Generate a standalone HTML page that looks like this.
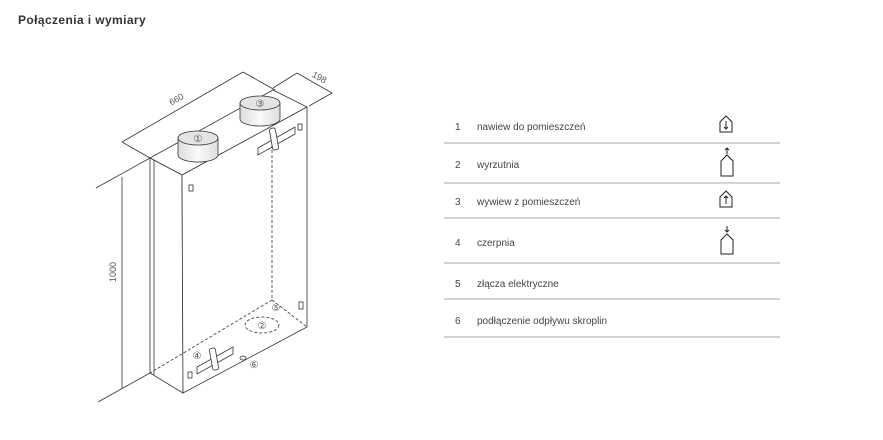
<!DOCTYPE html>
<html><head><meta charset="utf-8"><style>
body{margin:0;width:883px;height:440px;background:#fff;position:relative;overflow:hidden;font-family:"Liberation Sans",sans-serif;}
.t{position:absolute;left:18px;top:13px;font-size:12px;font-weight:bold;color:#333;letter-spacing:0.4px;}
svg{position:absolute;left:0;top:0}
</style></head><body>
<div class="t">Połączenia i wymiary</div>
<svg width="883" height="440" viewBox="0 0 883 440" font-family="Liberation Sans, sans-serif">
<defs><linearGradient id="g" x1="0" x2="1"><stop offset="0" stop-color="#ddd"/><stop offset="0.5" stop-color="#fafafa"/><stop offset="1" stop-color="#ddd"/></linearGradient></defs>
<g stroke="#333" stroke-width="0.8" fill="none">
<line x1="96" y1="188" x2="150" y2="158"/>
<line x1="98" y1="402" x2="150" y2="373"/>
<line x1="122" y1="177" x2="122" y2="388"/>
<line x1="122" y1="142" x2="243" y2="72"/>
<line x1="122" y1="142" x2="150" y2="158"/>
<line x1="243" y1="72" x2="275" y2="90"/>
<line x1="297" y1="73" x2="332" y2="93"/>
<line x1="273" y1="88" x2="297" y2="73"/>
<line x1="309" y1="106" x2="332" y2="93"/>
<polygon points="150,158 273,90 307,107 182,175" fill="#fff"/>
<polygon points="150,158 182,175 183,393 150,373" fill="#fff"/>
<polygon points="182,175 307,107 307,327 183,393" fill="#fff"/>
<line x1="154" y1="160" x2="154" y2="375"/>
<g stroke-dasharray="3,2">
<line x1="272" y1="130" x2="272" y2="300"/>
<line x1="272" y1="300" x2="150" y2="373"/>
<line x1="272" y1="300" x2="307" y2="327"/>
<ellipse cx="262" cy="325" rx="17" ry="8"/>
</g>
<path d="M178,138 L178,155 A20,7 0 0 0 218,155 L218,138" fill="url(#g)"/>
<ellipse cx="198" cy="138" rx="20" ry="7" fill="#e4e4e4"/>
<path d="M240,103 L240,119 A20,7 0 0 0 280,119 L280,103" fill="url(#g)"/>
<ellipse cx="260" cy="103" rx="20" ry="7" fill="#e4e4e4"/>
<polygon points="258,148 295,127 295,134 258,155"/>
<rect x="271" y="128" width="6" height="22" rx="2" transform="rotate(-10 274 139)" fill="#fff"/>
<polygon points="197,367 233,347 233,354 197,374"/>
<rect x="211" y="348" width="6" height="22" rx="2" transform="rotate(-10 214 359)" fill="#fff"/>
<rect x="189" y="185" width="4" height="6"/>
<rect x="298" y="124" width="4" height="6"/>
<rect x="188" y="372" width="4" height="6"/>
<rect x="299" y="302" width="4" height="7"/>
<ellipse cx="243" cy="358" rx="3" ry="2"/>
</g>
<g font-size="10" fill="#555" text-anchor="middle">
<text x="198" y="142">①</text><text x="260" y="107">③</text>
<text x="262" y="329">②</text><text x="276" y="311">⑤</text>
<text x="197" y="359">④</text><text x="254" y="368">⑥</text>
<text x="178" y="102" font-size="9" transform="rotate(-29 178 102)">660</text>
<text x="318" y="80" font-size="9" transform="rotate(29 318 80)">198</text>
<text x="116" y="272" font-size="9" transform="rotate(-90 116 272)">1000</text>
</g>
<g stroke="#aaa" stroke-width="1">
<line x1="444" y1="143" x2="780" y2="143"/><line x1="444" y1="183" x2="780" y2="183"/>
<line x1="444" y1="218" x2="780" y2="218"/><line x1="444" y1="263" x2="780" y2="263"/>
<line x1="444" y1="299" x2="780" y2="299"/><line x1="444" y1="337" x2="780" y2="337"/>
</g>
<g font-size="10" fill="#444">
<text x="455" y="130">1</text><text x="477" y="130">nawiew do pomieszczeń</text>
<text x="455" y="168">2</text><text x="477" y="168">wyrzutnia</text>
<text x="455" y="205">3</text><text x="477" y="205">wywiew z pomieszczeń</text>
<text x="455" y="246">4</text><text x="477" y="246">czerpnia</text>
<text x="455" y="287">5</text><text x="477" y="287">złącza elektryczne</text>
<text x="455" y="324">6</text><text x="477" y="324">podłączenie odpływu skroplin</text>
</g>
<g stroke="#222" stroke-width="1" fill="none">
<polygon points="720,122 726,116 732,122 732,132 720,132"/>
<line x1="726" y1="121" x2="726" y2="129"/><polyline points="724,127 726,129 728,127"/>
<polygon points="721,161 727,155 733,161 733,176 721,176"/>
<line x1="727" y1="148" x2="727" y2="154"/><polyline points="725,150 727,148 729,150"/>
<polygon points="720,197 726,191 732,197 732,207 720,207"/>
<line x1="726" y1="196" x2="726" y2="204"/><polyline points="724,198 726,196 728,198"/>
<polygon points="721,240 727,234 733,240 733,254 721,254"/>
<line x1="727" y1="226" x2="727" y2="232"/><polyline points="725,230 727,232 729,230"/>
</g>
</svg>
</body></html>
